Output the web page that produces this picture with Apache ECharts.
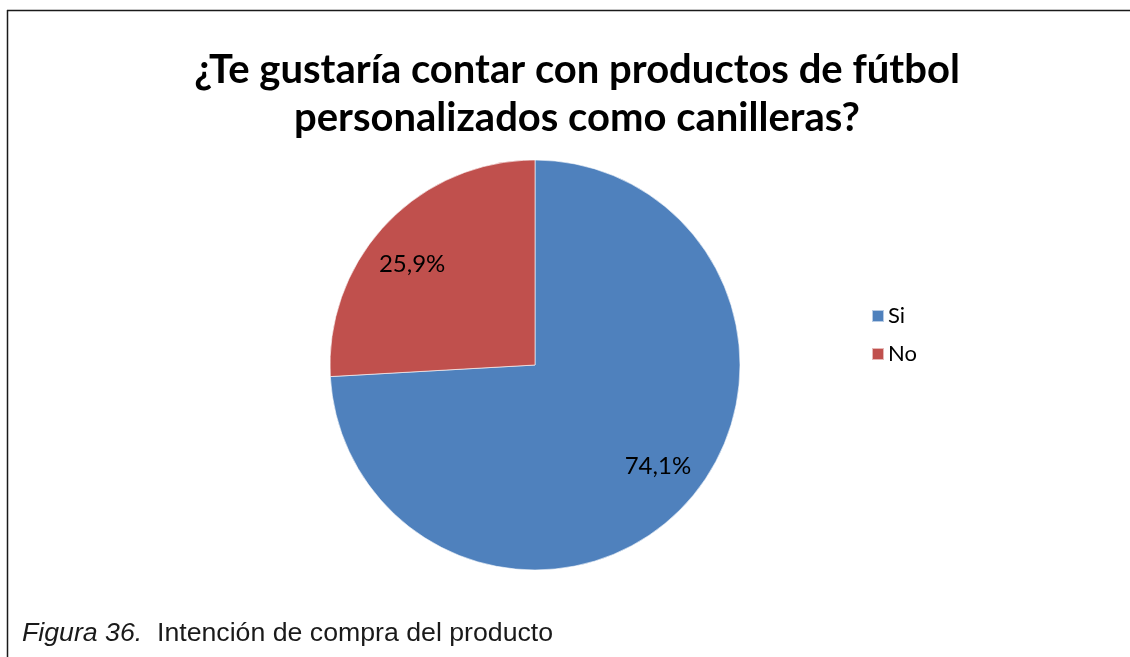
<!DOCTYPE html>
<html>
<head>
<meta charset="utf-8">
<style>
  html, body { margin: 0; padding: 0; background: #ffffff; }
  #chart { width: 1130px; height: 657px; }
</style>
<script src="https://cdn.jsdelivr.net/npm/echarts@6/dist/echarts.min.js"></script>
</head>
<body>
<div id="chart"></div>
<script>
// Survey answers and their shares (percent)
const categories = ['Si', 'No'];
const shares = [74.1, 25.9];
const sliceColors = ['#4F81BD', '#C0504D'];

const chartTitle = '¿Te gustaría contar con productos de fútbol\npersonalizados como canilleras?';
const captionLead = 'Figura 36.';
const captionText = 'Intención de compra del producto';

const pieData = categories.map((name, i) => ({
  name: name,
  value: shares[i],
  itemStyle: { color: sliceColors[i] }
}));

const fmtPct = p => p.value.toFixed(1).replace('.', ',') + '%';

const chart = echarts.init(document.getElementById('chart'), null, { renderer: 'canvas' });

chart.setOption({
  backgroundColor: '#ffffff',
  animation: false,
  title: {
    text: chartTitle,
    left: 572,
    textAlign: 'center',
    top: 41,
    textStyle: {
      fontFamily: 'Lato',
      fontWeight: 'bold',
      fontSize: 40,
      lineHeight: 48,
      color: '#000000'
    }
  },
  legend: {
    orient: 'vertical',
    left: 866,
    top: 300,
    itemWidth: 12,
    itemHeight: 12,
    itemGap: 16,
    icon: 'rect',
    data: categories,
    textStyle: { fontFamily: 'Lato', fontSize: 22, color: '#000000', padding: [0, 0, 0, -1] }
  },
  series: [
    {
      type: 'pie',
      center: [535, 365],
      radius: [0, 205],
      startAngle: 90,
      clockwise: true,
      silent: true,
      label: { show: false },
      labelLine: { show: false },
      itemStyle: { borderColor: 'rgba(255,255,255,0.6)', borderWidth: 1 },
      data: pieData
    },
    {
      // transparent companion ring that places the value labels further out
      type: 'pie',
      center: [535, 365],
      radius: [0, 312],
      startAngle: 94,
      clockwise: true,
      silent: true,
      legendHoverLink: false,
      itemStyle: { color: 'rgba(0,0,0,0)' },
      label: {
        show: true,
        position: 'inside',
        formatter: fmtPct,
        fontFamily: 'Lato',
        fontSize: 24,
        color: '#000000'
      },
      labelLine: { show: false },
      emphasis: { disabled: true },
      data: categories.map((name, i) => ({ name: name, value: shares[i] }))
    }
  ],
  graphic: [
    {
      type: 'line',
      shape: { x1: 7, y1: 10.5, x2: 1130, y2: 10.5 },
      style: { stroke: '#1a1a1a', lineWidth: 1.5 }
    },
    {
      type: 'line',
      shape: { x1: 7.5, y1: 10, x2: 7.5, y2: 657 },
      style: { stroke: '#1a1a1a', lineWidth: 1.5 }
    },
    {
      type: 'text',
      left: 22,
      top: 620,
      style: {
        text: '{a|' + captionLead + '}{b|  ' + captionText + '}',
        rich: {
          a: { fontFamily: 'Liberation Sans', fontStyle: 'italic', fontSize: 26.7, fill: '#1a1a1a' },
          b: { fontFamily: 'Liberation Sans', fontSize: 26.7, fill: '#1a1a1a' }
        }
      }
    }
  ]
});
</script>
</body>
</html>
